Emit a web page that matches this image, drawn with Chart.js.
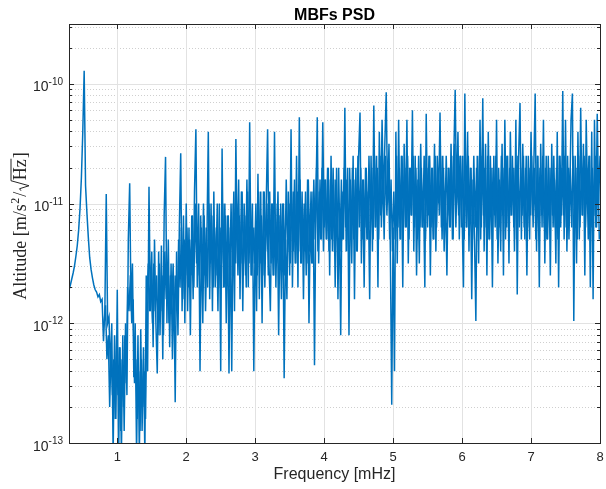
<!DOCTYPE html>
<html>
<head>
<meta charset="utf-8">
<script src="https://cdn.jsdelivr.net/npm/chart.js@4/dist/chart.umd.min.js"></script>
<style>
  html, body { margin: 0; padding: 0; background: #fff; }
</style>
</head>
<body>
<canvas id="psdChart" width="606" height="489"></canvas>
<script>
// frequency grid of the PSD (mHz)
const freqStart = 0.3;
const freqStep = 0.02;

// log10 of the amplitude, one row = 0.2 mHz (peaks and dips)
const psdLog = [
  -11.72, -11.68, -11.63, -11.58, -11.52, -11.44, -11.35, -11.22, -11.04, -10.78,
  -10.40, -9.89, -10.85, -11.08, -11.28, -11.45, -11.55, -11.62, -11.68, -11.72,
  -11.74, -11.78, -11.76, -11.82, -11.80, -12.15, -11.90, -10.92, -12.00, -11.95,
  -12.40, -12.00, -13.10, -12.10, -12.80, -11.72, -13.10, -12.20, -13.10, -12.10,
  -12.90, -12.00, -12.60, -11.30, -10.83, -11.90, -11.50, -12.45, -12.00, -13.10,
  -12.10, -13.10, -12.05, -12.90, -12.20, -13.10, -11.60, -12.40, -10.86, -11.90,
  -11.40, -12.20, -11.30, -12.00, -12.42, -11.40, -12.10, -11.35, -12.30, -11.10,
  -10.61, -12.00, -11.30, -12.20, -11.50, -12.30, -11.60, -12.66, -11.40, -12.10,
  -11.20, -10.58, -11.90, -11.10, -12.00, -11.00, -11.90, -11.20, -12.10, -11.10,
  -11.80, -10.90, -10.38, -11.70, -11.00, -12.40, -11.20, -12.00, -11.10, -11.90,
  -11.30, -10.40, -11.80, -11.00, -11.90, -10.90, -11.70, -11.20, -11.90, -11.00,
  -12.40, -10.54, -11.70, -11.00, -12.00, -11.10, -12.42, -11.20, -12.40, -11.00,
  -11.90, -10.46, -11.50, -10.80, -11.80, -10.90, -11.90, -11.00, -11.60, -10.80,
  -11.70, -10.32, -11.60, -11.00, -12.40, -11.20, -11.90, -10.75, -11.80, -10.90,
  -12.00, -10.90, -11.70, -11.00, -10.38, -11.50, -11.90, -11.00, -11.60, -10.40,
  -11.70, -11.00, -12.10, -11.10, -11.80, -11.00, -12.46, -11.30, -11.80, -10.90,
  -11.60, -10.38, -11.70, -10.90, -11.50, -10.60, -11.70, -10.28, -11.50, -10.90,
  -11.80, -11.00, -11.60, -10.80, -12.00, -11.10, -11.50, -10.90, -12.35, -11.00,
  -10.28, -11.50, -10.80, -11.30, -10.32, -11.20, -10.80, -11.30, -10.70, -11.60,
  -10.60, -11.40, -10.80, -11.70, -10.70, -11.80, -11.00, -12.10, -10.90, -11.30,
  -10.20, -11.40, -10.70, -12.10, -10.80, -11.50, -10.60, -11.80, -10.70, -11.40,
  -10.60, -10.24, -11.50, -10.80, -11.70, -10.70, -11.30, -10.90, -11.80, -10.60,
  -11.40, -10.18, -11.20, -10.60, -11.70, -10.40, -11.10, -10.30, -11.00, -10.50,
  -10.07, -11.00, -10.50, -11.40, -12.68, -11.20, -12.40, -10.40, -11.50, -10.30,
  -11.30, -10.60, -11.70, -10.50, -11.20, -10.30, -11.50, -10.70, -11.10, -10.22,
  -11.40, -10.60, -11.60, -10.80, -11.50, -10.50, -11.20, -10.90, -11.70, -10.25,
  -11.20, -10.60, -11.60, -10.70, -11.30, -10.50, -11.40, -10.60, -11.00, -10.24,
  -11.20, -10.60, -11.40, -10.90, -11.60, -10.70, -11.20, -10.50, -11.30, -10.60,
  -10.05, -11.00, -10.40, -11.30, -10.60, -11.10, -11.70, -10.08, -11.20, -10.40,
  -11.40, -10.70, -11.80, -10.80, -11.30, -11.98, -10.60, -11.50, -10.30, -11.20,
  -10.12, -11.40, -10.50, -11.60, -10.40, -11.30, -10.70, -11.70, -10.60, -11.20,
  -10.30, -11.50, -10.80, -11.40, -10.50, -11.60, -10.30, -11.20, -10.60, -11.50,
  -10.40, -11.10, -10.70, -11.40, -10.30, -11.76, -10.60, -10.16, -11.30, -10.50,
  -11.20, -10.70, -11.60, -10.60, -11.30, -10.40, -11.10, -10.70, -10.08, -11.40,
  -10.60, -11.70, -10.50, -11.20, -10.30, -11.50, -10.60, -11.30, -10.70, -11.60,
  -10.50, -11.20, -10.80, -11.50, -10.40, -11.70, -10.60, -11.10, -10.06, -11.30,
  -10.30, -11.40, -10.70, -11.00, -10.30, -10.08, -11.98, -10.60, -11.50, -10.40,
  -11.30, -10.20, -11.10, -10.50, -11.60, -10.30, -11.00, -10.60, -11.70, -10.40,
  -11.80, -10.30, -11.20, -10.25, -11.00, -10.60
];

// dense core of the noise band, sampled between the points above (from 0.81 mHz)
const coreStart = 0.81;
const coreLog = [
  -12.0, -11.85, -12.3, -12.1, -12.7, -12.2, -12.6, -12.3, -12.8, -12.1,
  -12.6, -12.2, -12.9, -12.3, -12.7, -12.1, -12.5, -11.7, -11.9, -11.6,
  -12.0, -11.8, -12.5, -12.3, -12.8, -12.4, -12.9, -12.3, -12.7, -12.4,
  -12.8, -11.8, -11.5, -11.9, -11.6, -12.0, -11.5, -11.9, -11.6, -12.1,
  -11.5, -11.9, -11.6, -12.1, -11.4, -11.8, -11.5, -12.0, -11.6, -11.9,
  -11.5, -12.0, -11.6, -11.9, -11.3, -11.7, -11.2, -11.8, -11.3, -11.6,
  -11.2, -11.7, -11.3, -11.6, -11.1, -11.7, -11.0, -11.5, -11.2, -11.6,
  -11.1, -11.7, -11.0, -11.6, -11.2, -11.7, -11.0, -11.5, -11.1, -11.7,
  -11.2, -11.6, -11.0, -11.7, -11.2, -11.5, -11.0, -11.7, -11.1, -11.6,
  -11.1, -11.7, -11.0, -11.6, -10.9, -11.5, -11.0, -11.6, -11.1, -11.5,
  -10.9, -11.5, -11.1, -11.7, -10.9, -11.5, -11.0, -11.6, -11.2, -11.5,
  -11.0, -11.6, -10.9, -11.5, -11.1, -11.6, -10.9, -11.4, -11.0, -11.6,
  -10.9, -11.5, -11.0, -11.6, -11.1, -11.5, -10.9, -11.6, -11.0, -11.5,
  -11.0, -11.6, -10.8, -11.4, -11.0, -11.5, -10.9, -11.4, -10.8, -11.5,
  -10.9, -11.4, -10.8, -11.5, -11.0, -11.4, -10.9, -11.5, -10.8, -11.4,
  -10.9, -11.5, -10.8, -11.3, -10.7, -11.4, -10.9, -11.3, -10.7, -11.4,
  -10.8, -11.3, -10.7, -11.4, -10.8, -11.3, -10.7, -11.4, -10.8, -11.3,
  -10.7, -11.4, -10.8, -11.3, -10.7, -11.2, -10.8, -11.4, -10.7, -11.3,
  -10.7, -11.3, -10.8, -11.4, -10.6, -11.2, -10.7, -11.3, -10.8, -11.2,
  -10.7, -11.3, -10.6, -11.2, -10.7, -11.3, -10.6, -11.2, -10.7, -11.3,
  -10.6, -11.2, -10.7, -11.3, -10.6, -11.1, -10.7, -11.3, -10.8, -11.4,
  -10.9, -11.3, -10.6, -11.2, -10.7, -11.3, -10.6, -11.2, -10.7, -11.2,
  -10.6, -11.3, -10.7, -11.1, -10.6, -11.2, -10.7, -11.3, -10.6, -11.2,
  -10.7, -11.2, -10.6, -11.3, -10.7, -11.1, -10.6, -11.2, -10.7, -11.3,
  -10.6, -11.2, -10.7, -11.1, -10.6, -11.3, -10.7, -11.2, -10.6, -11.1,
  -10.7, -11.2, -10.6, -11.3, -10.5, -11.2, -10.7, -11.1, -10.6, -11.2,
  -10.6, -11.3, -10.7, -11.2, -10.6, -11.1, -10.7, -11.3, -10.6, -11.2,
  -10.7, -11.2, -10.6, -11.3, -10.6, -11.1, -10.7, -11.2, -10.6, -11.3,
  -10.6, -11.2, -10.7, -11.1, -10.6, -11.3, -10.7, -11.2, -10.6, -11.1,
  -10.7, -11.3, -10.6, -11.2, -10.7, -11.1, -10.6, -11.2, -10.7, -11.3,
  -10.6, -11.2, -10.7, -11.1, -10.6, -11.3, -10.6, -11.2, -10.7, -11.1,
  -10.6, -11.2, -10.7, -11.3, -10.6, -11.2, -10.7, -11.1, -10.6, -11.2,
  -10.7, -11.3, -10.6, -11.2, -10.7, -11.1, -10.6, -11.2, -10.7, -11.3,
  -10.6, -11.2, -10.7, -11.1, -10.6, -11.2, -10.6, -11.3, -10.7, -11.2,
  -10.6, -11.1, -10.7, -11.3, -10.6, -11.2, -10.7, -11.1, -10.6, -11.2,
  -10.7, -11.3, -10.6, -11.2, -10.7, -11.1, -10.6, -11.2, -10.7, -11.3
];

const xTicks = [1, 2, 3, 4, 5, 6, 7, 8];
const yDecades = [-13, -12, -11, -10];
const xRange = [0.3, 8];
const yRange = [1e-13, Math.pow(10, -9.5)];

const toPoints = (arr, start) => arr.map((v, i) => ({
  x: +(start + i * freqStep).toFixed(2),
  y: Math.pow(10, v)
}));

const SANS = '"Liberation Sans", Arial, Helvetica, sans-serif';
const SERIF = '"Liberation Serif", "DejaVu Serif", serif';
const AXIS = '#262626';
const LINE = '#0072BD';

function drawYLabel(ctx, cx, cy) {
  const main = '18px ' + SERIF;
  const small = '12px ' + SERIF;
  ctx.save();
  ctx.translate(cx, cy);
  ctx.rotate(-Math.PI / 2);
  ctx.fillStyle = AXIS;
  ctx.strokeStyle = AXIS;
  ctx.textBaseline = 'alphabetic';
  ctx.textAlign = 'left';

  ctx.font = main;
  const w1 = ctx.measureText('Altitude [m/s').width;
  const wSlash = ctx.measureText('/').width;
  const wHz = ctx.measureText('Hz').width;
  const wBr = ctx.measureText(']').width;
  ctx.font = small;
  const w2 = ctx.measureText('2').width;
  const rw = 11;
  const total = w1 + w2 + 1.5 + wSlash + rw + wHz + 1.5 + wBr;

  let x = -total / 2;
  ctx.font = main;
  ctx.fillText('Altitude [m/s', x, 0);
  x += w1 + 0.5;
  ctx.font = small;
  ctx.fillText('2', x, -7);
  x += w2 + 1;
  ctx.font = main;
  ctx.fillText('/', x, 0);
  x += wSlash;
  // radical sign with the bar over Hz
  ctx.lineWidth = 1;
  ctx.beginPath();
  ctx.moveTo(x + 1, -5);
  ctx.lineTo(x + 3, -6.5);
  ctx.lineTo(x + 6, 3);
  ctx.lineTo(x + rw, -15);
  ctx.lineTo(x + rw + wHz + 1, -15);
  ctx.stroke();
  x += rw + 0.5;
  ctx.fillText('Hz', x, 0);
  x += wHz + 1;
  ctx.fillText(']', x, 0);
  ctx.restore();
}

const matlabFrame = {
  id: 'matlabFrame',
  beforeDraw(chart) {
    const ctx = chart.ctx;
    ctx.save();
    ctx.fillStyle = '#fff';
    ctx.fillRect(0, 0, chart.width, chart.height);
    ctx.restore();
  },
  beforeDatasetsDraw(chart) {
    const { ctx, chartArea: a, scales: { x, y } } = chart;
    ctx.save();
    ctx.lineWidth = 1;
    // minor y grid (dotted)
    ctx.strokeStyle = '#cfcfcf';
    ctx.setLineDash([1, 2]);
    yDecades.forEach(d => {
      for (let m = 2; m <= 9; m++) {
        const v = m * Math.pow(10, d);
        if (v > yRange[1]) continue;
        const py = Math.round(y.getPixelForValue(v)) + 0.5;
        ctx.beginPath();
        ctx.moveTo(a.left, py);
        ctx.lineTo(a.right, py);
        ctx.stroke();
      }
    });
    // major grid
    ctx.setLineDash([]);
    ctx.strokeStyle = '#e2e2e2';
    xTicks.forEach(t => {
      const px = Math.round(x.getPixelForValue(t)) + 0.5;
      ctx.beginPath();
      ctx.moveTo(px, a.top);
      ctx.lineTo(px, a.bottom);
      ctx.stroke();
    });
    yDecades.forEach(d => {
      const py = Math.round(y.getPixelForValue(Math.pow(10, d))) + 0.5;
      ctx.beginPath();
      ctx.moveTo(a.left, py);
      ctx.lineTo(a.right, py);
      ctx.stroke();
    });
    ctx.restore();
  },
  afterDatasetsDraw(chart) {
    const { ctx, chartArea: a, scales: { x, y } } = chart;
    ctx.save();
    ctx.strokeStyle = AXIS;
    ctx.fillStyle = AXIS;
    ctx.lineWidth = 1;
    ctx.strokeRect(Math.round(a.left) + 0.5, Math.round(a.top) + 0.5,
      Math.round(a.right - a.left), Math.round(a.bottom - a.top));

    // x ticks, inside, top and bottom
    ctx.beginPath();
    xTicks.forEach(t => {
      const px = Math.round(x.getPixelForValue(t)) + 0.5;
      ctx.moveTo(px, a.bottom); ctx.lineTo(px, a.bottom - 5);
      ctx.moveTo(px, a.top); ctx.lineTo(px, a.top + 5);
    });
    // y ticks, major and minor, left and right
    yDecades.forEach(d => {
      for (let m = 1; m <= 9; m++) {
        const v = m * Math.pow(10, d);
        if (v > yRange[1]) continue;
        const len = m === 1 ? 5 : 3;
        const py = Math.round(y.getPixelForValue(v)) + 0.5;
        ctx.moveTo(a.left, py); ctx.lineTo(a.left + len, py);
        ctx.moveTo(a.right, py); ctx.lineTo(a.right - len, py);
      }
    });
    ctx.stroke();

    // x tick labels
    ctx.font = '13px ' + SANS;
    ctx.textAlign = 'center';
    ctx.textBaseline = 'alphabetic';
    xTicks.forEach(t => ctx.fillText(String(t), x.getPixelForValue(t), 461));

    // y tick labels 10^d
    yDecades.forEach(d => {
      const py = y.getPixelForValue(Math.pow(10, d));
      ctx.font = '10px ' + SANS;
      const sup = String(d);
      const ws = ctx.measureText(sup).width;
      ctx.textAlign = 'right';
      ctx.fillText(sup, a.left - 6, py + 1);
      ctx.font = '14px ' + SANS;
      ctx.fillText('10', a.left - 6 - ws, py + 7.5);
    });

    // title and axis labels
    const cx = (a.left + a.right) / 2;
    ctx.textAlign = 'center';
    ctx.fillStyle = '#000';
    ctx.font = 'bold 16px ' + SANS;
    ctx.fillText('MBFs PSD', cx, 20);
    ctx.fillStyle = AXIS;
    ctx.font = '16px ' + SANS;
    ctx.fillText('Frequency [mHz]', cx, 479);
    drawYLabel(ctx, 26, 226);
    ctx.restore();
  }
};

const lineStyle = {
  borderColor: LINE,
  borderWidth: 1.5,
  pointRadius: 0,
  tension: 0,
  fill: false,
  clip: 0
};

new Chart(document.getElementById('psdChart'), {
  type: 'line',
  data: {
    datasets: [
      { label: 'MBFs PSD', data: toPoints(psdLog, freqStart), ...lineStyle },
      { label: 'MBFs PSD core', data: toPoints(coreLog, coreStart), ...lineStyle }
    ]
  },
  options: {
    responsive: false,
    animation: false,
    devicePixelRatio: 1,
    layout: { padding: { top: 24, right: 6, left: 0, bottom: 0 } },
    plugins: { legend: { display: false }, title: { display: false }, tooltip: { enabled: false } },
    scales: {
      x: {
        type: 'linear',
        min: xRange[0],
        max: xRange[1],
        grid: { display: false },
        border: { display: false },
        ticks: { display: false },
        afterFit(scale) { scale.height = 46; }
      },
      y: {
        type: 'logarithmic',
        min: yRange[0],
        max: yRange[1],
        grid: { display: false },
        border: { display: false },
        ticks: { display: false },
        afterFit(scale) { scale.width = 69; }
      }
    }
  },
  plugins: [matlabFrame]
});
</script>
</body>
</html>
